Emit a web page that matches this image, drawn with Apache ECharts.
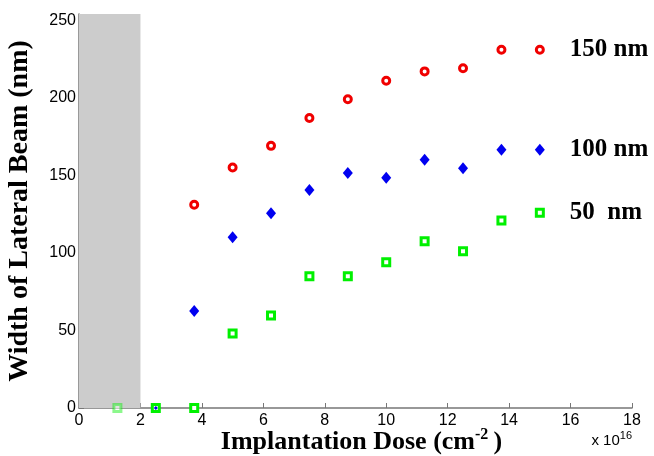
<!DOCTYPE html>
<html>
<head>
<meta charset="utf-8">
<style>
  html, body { margin: 0; padding: 0; background: #fff; }
  #chart { width: 654px; height: 456px; }
</style>
<script src="https://cdn.jsdelivr.net/npm/echarts@6/dist/echarts.min.js"></script>
</head>
<body>
<div id="chart"></div>
<script>
// implantation dose (x 10^16 cm^-2)
var doses = [1.25, 2.5, 3.75, 5, 6.25, 7.5, 8.75, 10, 11.25, 12.5, 13.75, 15];
// widths (nm), null = not measured
var w150 = [null, null, 131, 155, 169, 187, 199, 211, 217, 219, 231, 231];
var w100 = [null, 0, 62.6, 110, 125.5, 140.5, 151.5, 148.5, 160, 154.5, 166.5, 166.5];
var w50 = [0, 0, 0, 48, 59.6, 85, 85, 94, 107.5, 101, 120.8, 125.8];
var xTicks = [0, 2, 4, 6, 8, 10, 12, 14, 16, 18];
var yTicks = [0, 50, 100, 150, 200, 250];
var shadedRange = [0, 2];
var seriesNames = ['150 nm', '100 nm', '50  nm'];

var chart = echarts.init(document.getElementById('chart'));

function pts(vals, label) {
  var out = [];
  for (var i = 0; i < doses.length; i++) {
    if (vals[i] == null) continue;
    var item = { value: [doses[i], vals[i]] };
    if (doses[i] < shadedRange[1]) item.itemStyle = { opacity: 0.45 };
    out.push(item);
  }
  var last = out[out.length - 1];
  last.label = {
    show: true, position: 'right', distance: 25, formatter: label,
    fontFamily: 'Liberation Serif', fontWeight: 'bold', fontSize: 25, color: '#000'
  };
  return out;
}

var labelFont = { fontFamily: 'Liberation Sans', fontSize: 16, color: '#000' };

chart.setOption({
  animation: false,
  grid: { left: 79, right: 22, top: 14, bottom: 48, outerBoundsMode: 'none' },
  xAxis: {
    type: 'value', min: 0, max: 18, interval: 2,
    axisLine: { lineStyle: { color: '#777', width: 1.5 } },
    axisTick: { inside: true, length: 5, lineStyle: { color: '#777' } },
    axisLabel: Object.assign({ margin: 5 }, labelFont),
    splitLine: { show: false },
    name: 'Implantation Dose (cm{s|-2}\u2009)',
    nameLocation: 'middle', nameGap: 19, nameMoveOverlap: false,
    nameTextStyle: {
      fontFamily: 'Liberation Serif', fontWeight: 'bold', fontSize: 26, color: '#000',
      padding: [0, 0, 0, 12],
      rich: { s: { fontFamily: 'Liberation Serif', fontWeight: 'bold', fontSize: 16, color: '#000', padding: [0, 0, 14, 0] } }
    }
  },
  yAxis: {
    type: 'value', min: 0, max: 254, interval: 50,
    axisLine: { lineStyle: { color: '#777', width: 1.5 } },
    axisTick: { inside: true, length: 5, lineStyle: { color: '#777' } },
    axisLabel: Object.assign({
      margin: 3,
      showMaxLabel: false,
      formatter: function (v) { return yTicks.indexOf(v) >= 0 ? String(v) : ''; }
    }, labelFont),
    splitLine: { show: false },
    name: 'Width of Lateral Beam (nm)',
    nameLocation: 'middle', nameGap: 45, nameMoveOverlap: false,
    nameTextStyle: { fontFamily: 'Liberation Serif', fontWeight: 'bold', fontSize: 28, color: '#000' }
  },
  graphic: [{
    type: 'text', right: 22, bottom: 8,
    style: {
      text: 'x 10{s|16}',
      font: '15px "Liberation Sans"', fill: '#000',
      rich: { s: { fontSize: 11, fontFamily: 'Liberation Sans', fill: '#000', padding: [0, 0, 10, 0] } }
    }
  }],
  series: [
    {
      name: seriesNames[2], type: 'scatter', z: 2,
      symbol: 'rect', symbolSize: 7,
      itemStyle: { color: '#fff', borderColor: '#00f000', borderWidth: 3, opacity: 1 },
      data: pts(w50, seriesNames[2]),
      markArea: {
        silent: true,
        itemStyle: { color: '#cccccc', opacity: 1 },
        data: [[{ xAxis: shadedRange[0], yAxis: 0 }, { xAxis: shadedRange[1], yAxis: 254 }]]
      }
    },
    {
      name: seriesNames[1], type: 'scatter', z: 3,
      symbol: 'diamond', symbolSize: [10, 12],
      itemStyle: { color: '#0000f0', opacity: 1 },
      data: pts(w100, seriesNames[1]).map(function (d) {
        if (d.value[1] === 0) { d.symbolSize = 4; }
        return d;
      })
    },
    {
      name: seriesNames[0], type: 'scatter', z: 3,
      symbol: 'circle', symbolSize: 7,
      itemStyle: { color: '#fff', borderColor: '#f00000', borderWidth: 3, opacity: 1 },
      data: pts(w150, seriesNames[0])
    }
  ]
});
</script>
</body>
</html>
